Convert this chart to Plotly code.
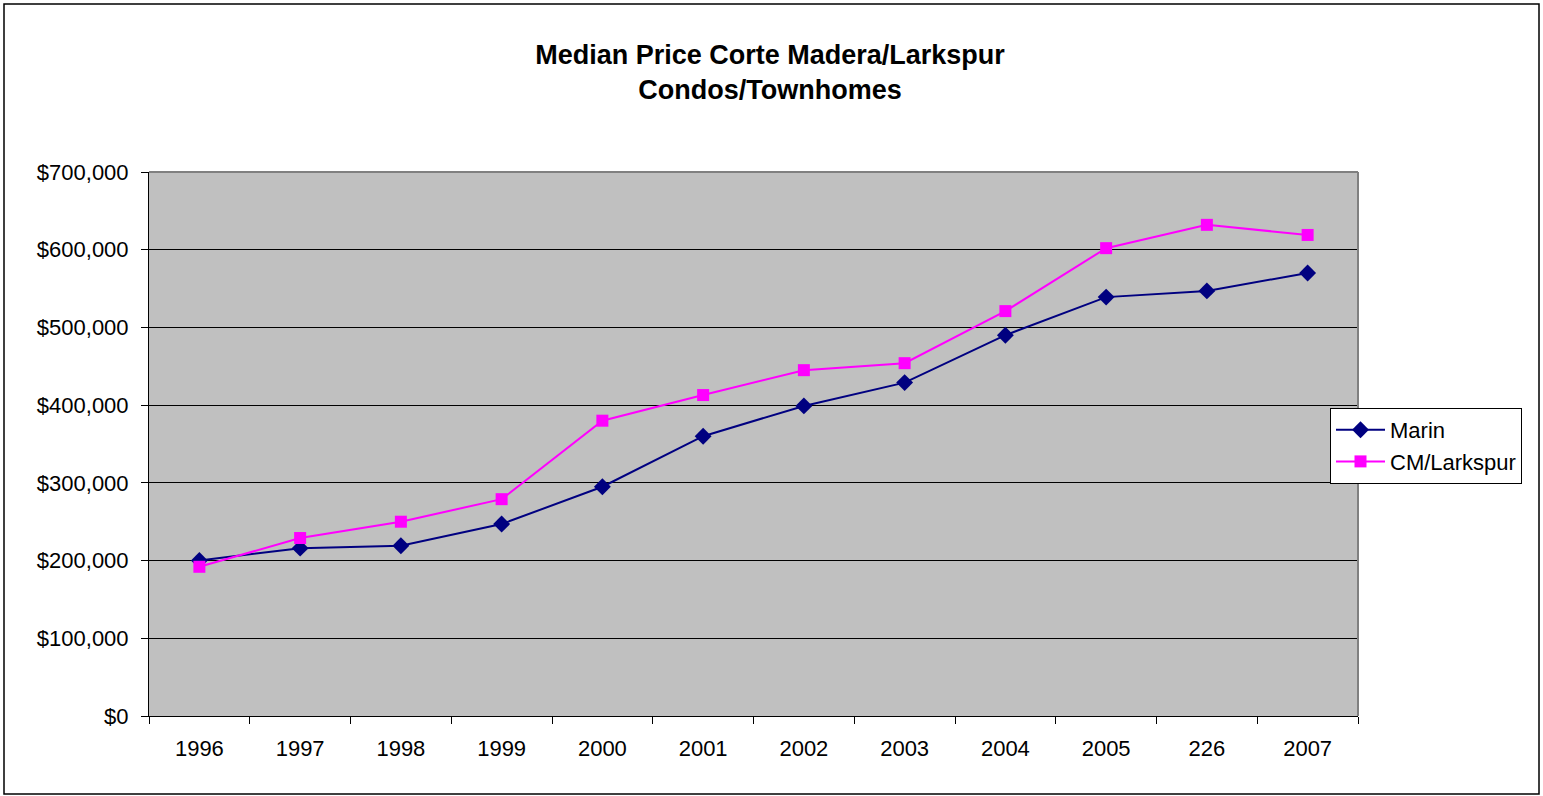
import plotly.graph_objects as go

years = ["1996", "1997", "1998", "1999", "2000", "2001", "2002", "2003", "2004", "2005", "226", "2007"]
marin = [200000, 216000, 219000, 247000, 295000, 360000, 399000, 429000, 490000, 539000, 547000, 570000]
cm_larkspur = [192000, 229000, 250000, 279000, 380000, 413000, 445000, 454000, 521000, 602000, 632000, 619000]
y_ticks = [0, 100000, 200000, 300000, 400000, 500000, 600000, 700000]
y_tick_text = [f"${v:,}" for v in y_ticks]

W, H = 1543, 796
L, R, T, B = 149, 1358, 172, 716

FONT = "Liberation Sans, Arial, sans-serif"

fig = go.Figure()
fig.add_trace(go.Scatter(
    x=years, y=marin, name="Marin", mode="lines+markers",
    line=dict(color="#000080", width=2),
    marker=dict(symbol="diamond", size=13, color="#000080"),
))
fig.add_trace(go.Scatter(
    x=years, y=cm_larkspur, name="CM/Larkspur", mode="lines+markers",
    line=dict(color="#FF00FF", width=2),
    marker=dict(symbol="square", size=12, color="#FF00FF"),
))

pw, ph = R - L, B - T
def px(x):
    return (x - L) / pw
def py(y):
    return (B - y) / ph

fig.update_layout(
    width=W, height=H,
    margin=dict(l=L, r=W - R, t=T, b=H - B, pad=0),
    paper_bgcolor="white",
    plot_bgcolor="#C0C0C0",
    font=dict(family=FONT, size=22, color="black"),
    title=dict(
        text="<b>Median Price Corte Madera/Larkspur<br>Condos/Townhomes</b>",
        x=770 / W, xref="container", xanchor="center",
        y=1 - 64 / H, yref="container", yanchor="middle",
        font=dict(family=FONT, size=27, color="black"),
    ),
    showlegend=True,
    legend=dict(
        x=px(1330), y=py(408), xanchor="left", yanchor="top",
        xref="paper", yref="paper",
        bgcolor="white", bordercolor="black", borderwidth=1,
        font=dict(family=FONT, size=22, color="black"),
        itemwidth=49, tracegroupgap=0,
    ),
    xaxis=dict(
        type="category",
        categoryorder="array", categoryarray=years,
        range=[-0.5, len(years) - 0.5],
        tickson="boundaries",
        ticks="outside", ticklen=7, tickwidth=1, tickcolor="black",
        showline=True, linecolor="black", linewidth=1,
        showgrid=False, zeroline=False,
        ticklabelstandoff=13,
        tickfont=dict(family=FONT, size=22, color="black"),
    ),
    yaxis=dict(
        range=[0, 700000],
        tickmode="array", tickvals=y_ticks, ticktext=y_tick_text,
        ticks="outside", ticklen=7, tickwidth=1, tickcolor="black",
        showline=True, linecolor="black", linewidth=1,
        showgrid=True, gridcolor="black", gridwidth=1,
        zeroline=False,
        ticklabelstandoff=8,
        tickfont=dict(family=FONT, size=22, color="black"),
    ),
    shapes=[
        dict(type="line", xref="paper", yref="paper", x0=0, x1=1, y0=1, y1=1,
             line=dict(color="#808080", width=2), layer="above"),
        dict(type="line", xref="paper", yref="paper", x0=1, x1=1, y0=0, y1=1,
             line=dict(color="#808080", width=2), layer="above"),
        dict(type="rect", xref="paper", yref="paper",
             x0=px(4), x1=px(1539), y0=py(794), y1=py(4),
             line=dict(color="black", width=1.5), fillcolor="rgba(0,0,0,0)", layer="below"),
    ],
)

fig.write_html("out.html", config={"displayModeBar": False})

with open("out.html", "r", encoding="utf-8") as f:
    html = f.read()
html = html.replace("<head>", "<head><style>html,body{margin:0;padding:0;overflow:hidden;}</style>", 1)
with open("out.html", "w", encoding="utf-8") as f:
    f.write(html)
